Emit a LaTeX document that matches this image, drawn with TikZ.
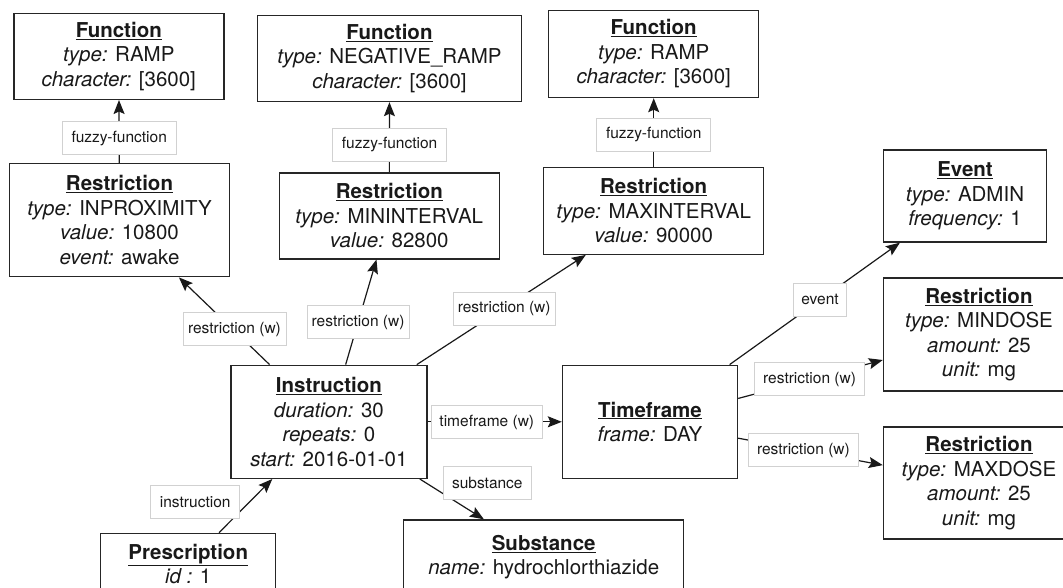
\documentclass[tikz,border=0pt]{standalone}
\usepackage{fontspec}
\setmainfont{TeX Gyre Heros}
\usetikzlibrary{arrows.meta}

\begin{document}
\begin{tikzpicture}[x=1pt, y=-1pt,
  every node/.style={font=\fontsize{20.5}{24.5}\selectfont, text=black!90},
  entity/.style={draw=black!85, line width=1.4pt, align=center, inner sep=0pt},
  role/.style={draw=black!18, fill=white, line width=0.8pt, inner sep=0pt,
    minimum height=33pt, font=\fontsize{15.5}{18}\selectfont},
  link/.style={line width=1.2pt, draw=black!90,
    -{Stealth[length=14pt, width=11pt, inset=2.5pt]}}]
  \useasboundingbox (0,0) rectangle (1063,587);
  \clip (0,0) rectangle (1063,587);

  % functions
  \node[entity, minimum width=210pt, minimum height=86pt] (fun1) at (118.8,56.3)
    {\underline{\textbf{Function}}\\{\itshape type:} RAMP\\{\itshape character:} [3600]};
  \node[entity, minimum width=264pt, minimum height=86pt] (fun2) at (389.5,58.5)
    {\underline{\textbf{Function}}\\{\itshape type:} NEGATIVE\_RAMP\\{\itshape character:} [3600]};
  \node[entity, minimum width=210pt, minimum height=87pt] (fun3) at (653.7,54)
    {\underline{\textbf{Function}}\\{\itshape type:} RAMP\\{\itshape character:} [3600]};

  % restrictions on the instruction
  \node[entity, minimum width=220pt, minimum height=113pt] (rst1) at (119.5,220.2)
    {\underline{\textbf{Restriction}}\\{\itshape type:} INPROXIMITY\\{\itshape value:} 10800\\{\itshape event:} awake};
  \node[entity, minimum width=220pt, minimum height=86pt] (rst2) at (389.3,215.8)
    {\underline{\textbf{Restriction}}\\{\itshape type:} MININTERVAL\\{\itshape value:} 82800};
  \node[entity, minimum width=220pt, minimum height=87pt] (rst3) at (653.7,210.7)
    {\underline{\textbf{Restriction}}\\{\itshape type:} MAXINTERVAL\\{\itshape value:} 90000};

  % event and dose restrictions
  \node[entity, minimum width=163pt, minimum height=92pt] (evt) at (965,196)
    {\underline{\textbf{Event}}\\{\itshape type:} ADMIN\\{\itshape frequency:} 1};
  \node[entity, minimum width=191pt, minimum height=113pt] (rmin) at (979,334.5)
    {\underline{\textbf{Restriction}}\\{\itshape type:} MINDOSE\\{\itshape amount:} 25\\{\itshape unit:} mg};
  \node[entity, minimum width=191pt, minimum height=112pt] (rmax) at (979,483)
    {\underline{\textbf{Restriction}}\\{\itshape type:} MAXDOSE\\{\itshape amount:} 25\\{\itshape unit:} mg};

  % instruction, timeframe, prescription, substance
  \node[entity, minimum width=196pt, minimum height=113pt] (ins) at (328.9,421.8)
    {\underline{\textbf{Instruction}}\\{\itshape duration:} 30\\{\itshape repeats:} 0\\{\itshape start:} 2016-01-01};
  \node[entity, minimum width=175pt, minimum height=113pt] (tfr) at (650,421.8)
    {\underline{\textbf{Timeframe}}\\{\itshape frame:} DAY};
  \node[entity, minimum width=175pt, minimum height=61pt] (pre) at (188.2,563.8)
    {\underline{\textbf{Prescription}}\\{\itshape id :} 1};
  \node[entity, minimum width=280pt, minimum height=74pt] (sub) at (543.7,557)
    {\underline{\textbf{Substance}}\\{\itshape name:} hydrochlorthiazide};

  % connectors
  \draw[link] (rst1) -- (fun1);
  \draw[link] (rst2) -- (fun2);
  \draw[link] (rst3) -- (fun3);
  \draw[link] (ins) -- (rst1);
  \draw[link] (ins) -- (rst2);
  \draw[link] (ins) -- (rst3);
  \draw[link] (ins) -- (tfr);
  \draw[link] (ins) -- (sub);
  \draw[link] (pre) -- (ins);
  \draw[link] (tfr) -- (evt);
  \draw[link] (tfr) -- (rmin);
  \draw[link] (tfr) -- (rmax);

  % connector labels
  \node[role, minimum width=114pt] (lf1) at (119.2,138.3) {fuzzy-function};
  \node[role, minimum width=114pt] (lf2) at (389.6,145) {fuzzy-function};
  \node[role, minimum width=114pt] (lf3) at (653.7,135) {fuzzy-function};
  \node[role, minimum width=103pt] (lr1) at (234.5,329) {restriction (w)};
  \node[role, minimum width=102pt] (lr2) at (358.1,322.2) {restriction (w)};
  \node[role, minimum width=102pt] (lr3) at (504.2,308.8) {restriction (w)};
  \node[role, minimum width=111pt] (ltf) at (486.8,422) {timeframe (w)};
  \node[role, minimum width=88pt] (lsb) at (487.3,483.3) {substance};
  \node[role, minimum width=89pt] (lin) at (195.2,502.3) {instruction};
  \node[role, minimum width=53pt] (lev) at (820,299.5) {event};
  \node[role, minimum width=110pt] (lr4) at (809.6,379.2) {restriction (w)};
  \node[role, minimum width=110pt] (lr5) at (803.4,450.3) {restriction (w)};
\end{tikzpicture}
\end{document}
